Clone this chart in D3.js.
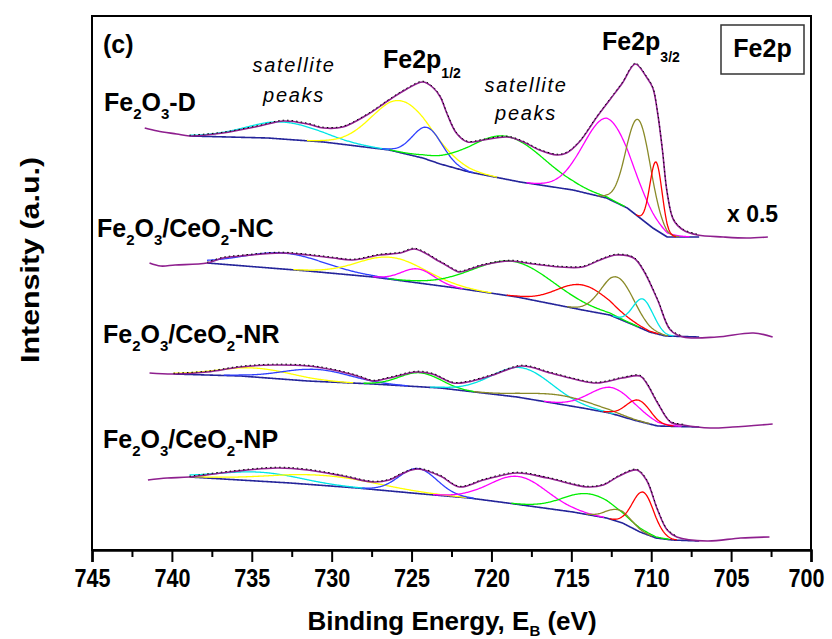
<!DOCTYPE html>
<html>
<head>
<meta charset="utf-8">
<script src="https://cdn.jsdelivr.net/npm/d3@7"></script>
<style>
  html, body { margin: 0; padding: 0; background: #fff; }
  svg { display: block; }
  text { font-family: "Liberation Sans", Arial, sans-serif; fill: #000; }
</style>
</head>
<body>
<svg id="chart" width="832" height="639"></svg>
<script>
// Fe 2p XPS spectra of the four samples, intensity in arbitrary units
const xTicks = [745, 740, 735, 730, 725, 720, 715, 710, 705, 700];
const xMinorTicks = [742.5, 737.5, 732.5, 727.5, 722.5, 717.5, 712.5, 707.5, 702.5];

const sampleNames = ["Fe2O3-D", "Fe2O3/CeO2-NC", "Fe2O3/CeO2-NR", "Fe2O3/CeO2-NP"];

// measured spectra: [binding energy (eV), intensity]
const rawD = [[741.7,422],[740.9,419],[739.7,416],[738.9,414],[736.8,417],[734.5,424],[733.0,429],[731.5,426],[730.5,422],[729.3,423],[727.8,435],[726.4,450],[725.3,461],[724.3,468],[723.7,463],[723.2,453],[722.8,437],[722.2,417],[721.5,408],[720.5,410],[719.0,413],[718.0,408],[717.0,400],[715.9,395],[715.3,397],[714.5,408],[713.4,433],[712.6,450],[711.8,467],[711.0,486],[710.3,473],[709.9,462],[709.6,437],[709.3,400],[709.0,357],[708.6,330],[708.0,320],[707.1,315],[705.5,313],[704.0,312],[702.7,313]];
const rawNC = [[741.4,287],[740.7,284],[739.8,285],[737.8,287],[736.8,292],[735.7,294],[733.2,297],[731.5,295],[729.9,292],[728.7,290],[727.0,295],[725.7,297],[724.8,301],[723.2,288],[722.2,279],[722.0,278],[720.5,285],[718.8,289],[717.4,286],[715.7,283],[714.3,283],[713.2,290],[712.2,295],[711.1,292],[710.5,280],[709.6,250],[708.8,220],[708.0,213],[705.9,213],[703.6,217],[702.4,213]];
const rawNR = [[741.4,177],[739.9,176],[737.8,178],[735.7,183],[733.7,185],[731.5,184],[729.9,180],[728.4,174],[727.4,169],[726.4,172],[724.7,178],[723.7,176],[722.4,167],[721.5,168],[719.9,175],[718.1,184],[716.3,177],[714.6,170],[713.4,167],[711.8,172],[710.7,174],[710.3,167],[709.6,147],[708.8,128],[708.0,125],[706.3,122],[704.9,123],[702.4,126]];
const rawNP = [[741.5,70],[740.3,72],[738.9,73],[736.4,78],[733.4,82],[731.5,80],[729.3,74],[727.4,68],[726.4,70],[725.5,77],[724.6,81],[723.2,74],[722.0,63],[720.5,70],[718.4,77],[716.5,72],[714.0,63],[713.0,65],[712.0,74],[710.9,80],[710.3,70],[709.6,40],[709.0,20],[708.4,13],[706.5,9],[704.4,12],[702.6,13]];

// Shirley backgrounds: [binding energy (eV), intensity]
const baseD = [[738.9,414],[734.0,412],[730.5,408],[726.4,400],[724.3,392],[723.2,386],[721.4,378],[718.2,368],[714.9,360],[712.8,352],[711.5,342],[710.7,332],[709.9,322],[709.0,313],[707.0,313]];
const baseNC = [[737.8,287],[731.5,279],[727.4,273],[722.2,262],[718.4,253],[714.3,240],[712.6,235],[711.1,225],[710.1,218],[709.1,214],[707.0,213]];
const baseNR = [[739.9,176],[735.7,174],[731.5,169],[727.4,166],[723.2,162],[718.4,153],[714.3,142],[712.6,137],[711.1,130],[709.6,124],[707.0,123]];
const baseNP = [[738.9,73],[732.6,67],[728.4,62],[724.3,56],[721.4,52],[719.0,47],[714.9,38],[712.8,32],[711.8,27],[710.7,18],[709.7,12],[708.7,10],[707.0,9]];

// fitted components: [centre (eV), height above background, FWHM (eV), colour]
const peaksD = [[733.0,17,5.5,"#00e5e5"],[725.6,52,4.4,"#ffff00"],[724.0,32,2.2,"#2f3fff"],[719.0,43,5.5,"#00ee00"],[712.7,80,3.6,"#ff00ff"],[710.8,97,1.8,"#8a8a28"],[709.7,68,0.9,"#ff0000"]];
const peaksNC = [[733.0,16,6.0,"#2f3fff"],[726.2,22,5.0,"#ffff00"],[724.6,14,2.4,"#ff00ff"],[718.6,35,6.0,"#00ee00"],[714.3,25,3.8,"#ff0000"],[712.1,41,2.4,"#8a8a28"],[710.5,30,1.5,"#00e5e5"]];
const peaksNR = [[734.7,9,5.5,"#ffff00"],[731.0,12,5.0,"#2f3fff"],[724.5,14,3.0,"#00ee00"],[718.1,30,4.5,"#00e5e5"],[715.6,9,5.0,"#8a8a28"],[712.4,26,3.4,"#ff00ff"],[710.8,21,1.8,"#ff0000"]];
const peaksNP = [[734.5,9,6.0,"#00e5e5"],[730.5,10,8.0,"#ffff00"],[724.6,25,2.8,"#2f3fff"],[718.3,28,4.2,"#ff00ff"],[713.8,21,4.0,"#00ee00"],[712.0,12,1.8,"#8a8a28"],[710.5,41,1.6,"#ff0000"]];

const spectra = [
  { raw: rawD,  base: baseD,  peaks: peaksD },
  { raw: rawNC, base: baseNC, peaks: peaksNC },
  { raw: rawNR, base: baseNR, peaks: peaksNR },
  { raw: rawNP, base: baseNP, peaks: peaksNP }
];

const svg = d3.select("#chart");
const margin = { left: 92, right: 21, top: 16, bottom: 89 };
const W = 832, H = 639;
const x = d3.scaleLinear().domain([745, 700]).range([margin.left, W - margin.right]);
const y = d3.scaleLinear().domain([0, 534]).range([H - margin.bottom, margin.top]);

const dataColor = "#8e1f8e";
const baseColor = "#24249a";

const plot = svg.append("g");

spectra.forEach(s => {
  const bE = s.base.map(d => d[0]);
  const bI = s.base.map(d => d[1]);
  const bg = d3.scaleLinear().domain(bE).range(bI).clamp(true);
  const eHi = bE[0], eLo = bE[bE.length - 1];
  const grid = d3.range(eHi, eLo - 0.001, -0.05);

  // background
  plot.append("path")
    .attr("d", d3.line().x(e => x(e)).y(e => y(bg(e)))(grid))
    .attr("fill", "none").attr("stroke", baseColor).attr("stroke-width", 1.6);

  // components on top of the background
  s.peaks.forEach(([c, h, w, col]) => {
    const k = 4 * Math.LN2 / (w * w);
    const pts = grid.map(e => [e, h * Math.exp(-k * (e - c) * (e - c))]);
    const line = d3.line()
      .defined(p => p[1] > 0.3)
      .x(p => x(p[0])).y(p => y(bg(p[0]) + p[1]));
    plot.append("path")
      .attr("d", line(pts))
      .attr("fill", "none").attr("stroke", col).attr("stroke-width", 1.3);
  });

  // measured data
  const dl = d3.line().curve(d3.curveCatmullRom.alpha(0.5)).x(d => x(d[0])).y(d => y(d[1]));
  plot.append("path").attr("d", dl(s.raw))
    .attr("fill", "none").attr("stroke", dataColor).attr("stroke-width", 1.6);
  const inFit = s.raw.filter(d => d[0] <= eHi + 0.3 && d[0] >= eLo - 0.3);
  plot.append("path").attr("d", dl(inFit))
    .attr("fill", "none").attr("stroke", "#000").attr("stroke-width", 1)
    .attr("stroke-dasharray", "1.5,3").attr("transform", "translate(0,-0.8)");
});

// frame
svg.append("rect")
  .attr("x", x(745)).attr("y", y(534))
  .attr("width", x(700) - x(745)).attr("height", y(0) - y(534))
  .attr("fill", "none").attr("stroke", "#000").attr("stroke-width", 2);

// bottom axis with major and minor ticks
const axisG = svg.append("g").attr("transform", `translate(0,${y(0)})`);
axisG.call(d3.axisBottom(x).tickValues(xTicks).tickSize(12).tickPadding(7).tickFormat(d3.format("d")));
axisG.append("g").call(d3.axisBottom(x).tickValues(xMinorTicks).tickSize(7).tickFormat(""))
  .select(".domain").remove();
axisG.selectAll("line").attr("stroke", "#000").attr("stroke-width", 2);
axisG.selectAll(".domain").attr("stroke", "#000").attr("stroke-width", 2.5);
axisG.selectAll("text")
  .style("font-weight", "bold").style("font-size", "25px").attr("fill", "#000")
  .attr("textLength", 36).attr("lengthAdjust", "spacingAndGlyphs");
// keep the last label inside the page
axisG.selectAll(".tick").filter(d => d === 700).select("text").attr("dx", -5);

// axis titles
const xt = svg.append("text").attr("x", 452).attr("y", 630)
  .attr("text-anchor", "middle")
  .style("font-weight", "bold").style("font-size", "26px");
xt.append("tspan").text("Binding Energy, E");
xt.append("tspan").attr("dy", 6).style("font-size", "15px").text("B");
xt.append("tspan").attr("dy", -6).text(" (eV)");

svg.append("text")
  .attr("transform", "translate(39,260) rotate(-90)")
  .attr("text-anchor", "middle")
  .style("font-weight", "bold").style("font-size", "26px")
  .attr("textLength", 206).attr("lengthAdjust", "spacingAndGlyphs")
  .text("Intensity (a.u.)");

// text with subscripts: parts = [[text, isSub], ...]
function richText(px, py, parts, size, subSize, drop, anchor) {
  const t = svg.append("text").attr("x", px).attr("y", py)
    .attr("text-anchor", anchor || "start")
    .style("font-weight", "bold").style("font-size", size + "px");
  let low = false;
  parts.forEach(([str, sub]) => {
    const ts = t.append("tspan").text(str);
    if (sub && !low) { ts.attr("dy", drop); low = true; }
    else if (!sub && low) { ts.attr("dy", -drop); low = false; }
    if (sub) ts.style("font-size", subSize + "px");
  });
  return t;
}

const labelParts = [
  [["Fe", 0], ["2", 1], ["O", 0], ["3", 1], ["-D", 0]],
  [["Fe", 0], ["2", 1], ["O", 0], ["3", 1], ["/CeO", 0], ["2", 1], ["-NC", 0]],
  [["Fe", 0], ["2", 1], ["O", 0], ["3", 1], ["/CeO", 0], ["2", 1], ["-NR", 0]],
  [["Fe", 0], ["2", 1], ["O", 0], ["3", 1], ["/CeO", 0], ["2", 1], ["-NP", 0]]
];
const labelPos = [[104, 111], [97, 237], [103, 343], [103, 448]];
labelParts.forEach((p, i) => richText(labelPos[i][0], labelPos[i][1], p, 25, 15, 8));

// panel annotations
svg.append("text").attr("x", 103).attr("y", 53)
  .style("font-weight", "bold").style("font-size", "25px").text("(c)");

richText(383, 68, [["Fe2p", 0], ["1/2", 1]], 25, 14, 10);
richText(602, 50, [["Fe2p", 0], ["3/2", 1]], 25, 14, 12);

svg.append("rect").attr("x", 721).attr("y", 25).attr("width", 83).attr("height", 49)
  .attr("fill", "#fff").attr("stroke", "#333").attr("stroke-width", 1.5);
svg.append("text").attr("x", 762.5).attr("y", 57).attr("text-anchor", "middle")
  .style("font-weight", "bold").style("font-size", "25px").text("Fe2p");

svg.append("text").attr("x", 727).attr("y", 222)
  .style("font-weight", "bold").style("font-size", "23px").text("x 0.5");

function satLabel(cx, y1, y2) {
  [["satellite", y1], ["peaks", y2]].forEach(([s, yy]) => {
    svg.append("text").attr("x", cx).attr("y", yy).attr("text-anchor", "middle")
      .style("font-style", "italic").style("font-size", "20px")
      .style("letter-spacing", "1.7px").text(s);
  });
}
satLabel(294, 72, 102);
satLabel(526, 92, 120);
</script>
</body>
</html>
